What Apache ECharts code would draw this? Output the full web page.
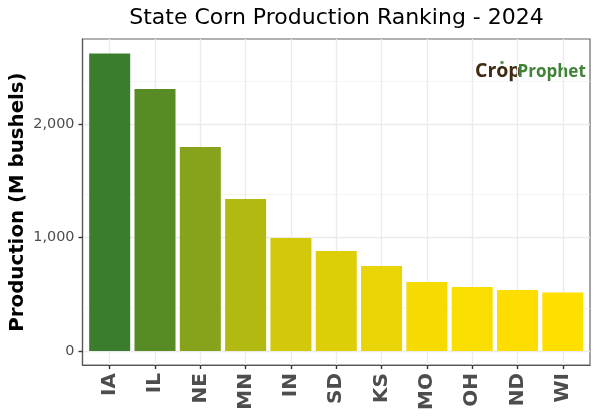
<!DOCTYPE html>
<html lang="en">
  <head>
    <meta charset="UTF-8" />
    <title>State Corn Production Ranking - 2024</title>
    <script src="https://cdn.jsdelivr.net/npm/echarts@6/dist/echarts.min.js"></script>
    <style>
      html, body { margin: 0; background: #fff; }
      #main { width: 600px; height: 420px; }
    </style>
  </head>
  <body>
    <div id="main"></div>
    <script>
      // values
      const states = ["IA", "IL", "NE", "MN", "IN", "SD", "KS", "MO", "OH", "ND", "WI"];
      const production = [2621, 2308, 1797, 1339, 996, 881, 749, 608, 564, 537, 515];
      const yTicks = [0, 1000, 2000];

      const font = "DejaVu Sans";
      const stateIndex = states.map((s, i) => i);

      const chart = echarts.init(document.getElementById("main"), null, { renderer: "canvas" });
      chart.setOption({
        animation: false,
        textStyle: { fontFamily: font },
        title: {
          text: "State Corn Production Ranking - 2024",
          left: 331.5,
          top: 2,
          textAlign: "center",
          textStyle: { fontFamily: font, fontSize: 22, fontWeight: "normal", color: "#000" },
        },
        grid: {
          left: 82.5,
          top: 39,
          width: 507.5,
          height: 326,
          outerBoundsMode: "none",
          show: true,
          backgroundColor: "#fff",
          borderColor: "#666",
          borderWidth: 1.2,
        },
        visualMap: {
          show: false,
          type: "continuous",
          dimension: 1,
          min: 515,
          max: 2621,
          inRange: { color: ["#ffdf00", "#3a7d2c"] },
        },
        xAxis: {
          type: "value",
          min: -0.6,
          max: 10.6,
          interval: 1,
          axisLine: { show: true, onZero: false, lineStyle: { color: "#555", width: 1.2 } },
          axisTick: { show: true, length: 4, customValues: stateIndex, lineStyle: { color: "#333", width: 1.4 } },
          axisLabel: {
            customValues: stateIndex,
            formatter: (v) => states[v],
            rotate: 90,
            margin: 8,
            fontFamily: font,
            fontSize: 20,
            fontWeight: "bold",
            color: "#4d4d4d",
          },
          splitLine: { show: true, lineStyle: { color: "#ebebeb", width: 1.3 } },
        },
        yAxis: {
          type: "value",
          min: -123,
          max: 2749,
          interval: 1000,
          name: "Production (M bushels)",
          nameLocation: "middle",
          nameGap: 55,
          nameMoveOverlap: false,
          nameTextStyle: { fontFamily: font, fontSize: 19.8, fontWeight: "bold", color: "#000" },
          axisLine: { show: true, onZero: false, lineStyle: { color: "#555", width: 1.2 } },
          axisTick: { show: true, length: 4, customValues: yTicks, lineStyle: { color: "#333", width: 1.4 } },
          axisLabel: {
            customValues: yTicks,
            formatter: (v) => v.toLocaleString("en-US"),
            margin: 8,
            fontFamily: font,
            fontSize: 14.4,
            color: "#4d4d4d",
          },
          splitLine: { show: true, lineStyle: { color: "#ebebeb", width: 1.3 } },
          minorTick: { show: false, splitNumber: 2 },
          minorSplitLine: { show: true, lineStyle: { color: "#f2f2f2", width: 0.8 } },
        },
        series: [
          {
            type: "bar",
            barWidth: 41,
            data: production.map((v, i) => [i, v]),
          },
        ],
        graphic: [
          {
            type: "text",
            left: 475,
            top: 61,
            style: { text: "Crop", fontFamily: "Open Sans", fontSize: 19.5, fontWeight: "bold", fill: "#3f2a12" },
          },
          {
            type: "text",
            left: 517.5,
            top: 63.5,
            style: { text: "Prophet", fontFamily: "Open Sans", fontSize: 17, fontWeight: "bold", fill: "#3f8336" },
          },
          {
            type: "circle",
            shape: { cx: 502, cy: 62.5, r: 1.8 },
            style: { fill: "#5f9a55" },
          },
        ],
      });
    </script>
  </body>
</html>
